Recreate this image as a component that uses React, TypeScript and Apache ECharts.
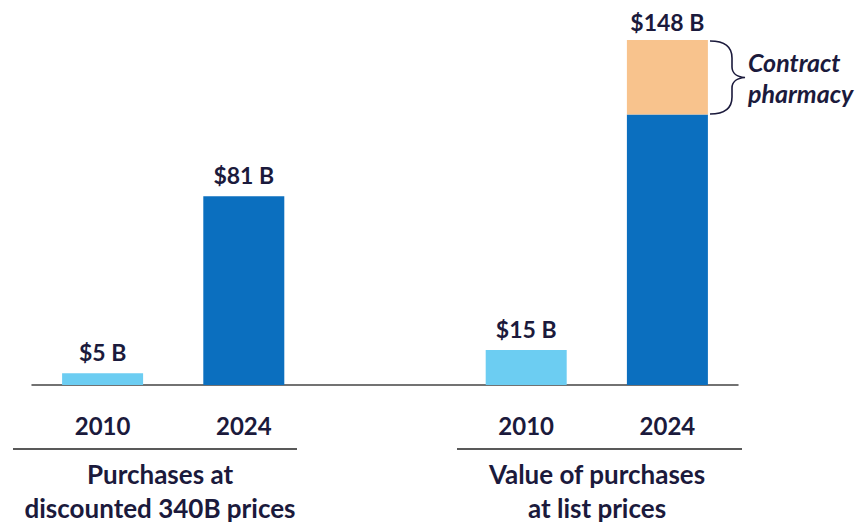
import React, { useEffect, useRef } from "react";
import * as echarts from "echarts";

const categories = ["2010", "2024", "", "2010", "2024"];
const coreValues: (number | null)[] = [5, 81, null, 15, 116];
const contractPharmacy: (number | null)[] = [null, null, null, null, 32];
const groupLabels = ["Purchases at\ndiscounted 340B prices", "Value of purchases\nat list prices"];
const annotationText = "Contract\npharmacy";

const NAVY = "#1b1a3c";
const LIGHT = "#6ccdf2";
const DARK = "#0b6fbf";
const ORANGE = "#f8c38d";
const FONT = "Lato";

echarts.graphic.registerShape(
  "brace",
  echarts.graphic.extendPath(
    "M0,0 C16,0 22,7 22,17 L22,26 C22,32 27,36 35,36.5 C27,37 22,41 22,47 L22,56 C22,66 16,73 0,73",
    {}
  )
);

export default function App() {
  const ref = useRef<HTMLDivElement>(null);
  useEffect(() => {
    if (!ref.current) return;
    const chart = echarts.init(ref.current, null, { renderer: "svg" });
    const fmt = (v: number) => `$${v} B`;
    chart.setOption({
      animation: false,
      grid: { left: 32, right: 126, top: 40, bottom: 145, containLabel: false },
      xAxis: {
        type: "category",
        data: categories,
        axisTick: { show: false },
        axisLine: { lineStyle: { color: "#444", width: 1.5 } },
        axisLabel: {
          color: NAVY,
          fontFamily: FONT,
          fontWeight: "bold",
          fontSize: 24,
          margin: 28,
        },
      },
      yAxis: { type: "value", min: 0, max: 148, show: false, splitLine: { show: false } },
      series: [
        {
          type: "bar",
          stack: "total",
          barWidth: 81,
          data: coreValues,
          itemStyle: {
            color: (p: any) => (categories[p.dataIndex] === "2010" ? LIGHT : DARK),
          },
          label: {
            show: true,
            position: "top",
            distance: 10,
            color: NAVY,
            fontFamily: FONT,
            fontWeight: "bold",
            fontSize: 23,
            formatter: (p: any) =>
              contractPharmacy[p.dataIndex] != null || p.value == null ? "" : fmt(p.value),
          },
        },
        {
          type: "bar",
          stack: "total",
          barWidth: 81,
          data: contractPharmacy,
          itemStyle: { color: ORANGE },
          label: {
            show: true,
            position: "top",
            distance: 7,
            color: NAVY,
            fontFamily: FONT,
            fontWeight: "bold",
            fontSize: 23,
            formatter: (p: any) =>
              p.value == null ? "" : fmt((coreValues[p.dataIndex] || 0) + p.value),
          },
        },
      ],
      graphic: [
        { type: "line", shape: { x1: 13, y1: 449, x2: 297, y2: 449 }, style: { stroke: "#222", lineWidth: 1.5 } },
        { type: "line", shape: { x1: 457, y1: 449, x2: 742, y2: 449 }, style: { stroke: "#222", lineWidth: 1.5 } },
        {
          type: "text",
          x: 160,
          y: 457,
          style: {
            text: groupLabels[0],
            textAlign: "center",
            fill: NAVY,
            font: `bold 26px ${FONT}`,
            lineHeight: 34,
          },
        },
        {
          type: "text",
          x: 597,
          y: 457,
          style: {
            text: groupLabels[1],
            textAlign: "center",
            fill: NAVY,
            font: `bold 26px ${FONT}`,
            lineHeight: 34,
          },
        },
        {
          type: "brace",
          x: 710,
          y: 41,
          style: { stroke: NAVY, lineWidth: 1.6, fill: "none" },
        },
        {
          type: "text",
          x: 748,
          y: 46,
          style: {
            text: annotationText,
            textAlign: "left",
            fill: NAVY,
            font: `italic bold 25px ${FONT}`,
            lineHeight: 31,
          },
        },
      ],
    });
    return () => chart.dispose();
  }, []);
  return (
    <div
      ref={ref}
      style={{ position: "fixed", left: 0, top: 0, width: 864, height: 530, background: "#fff" }}
    />
  );
}
